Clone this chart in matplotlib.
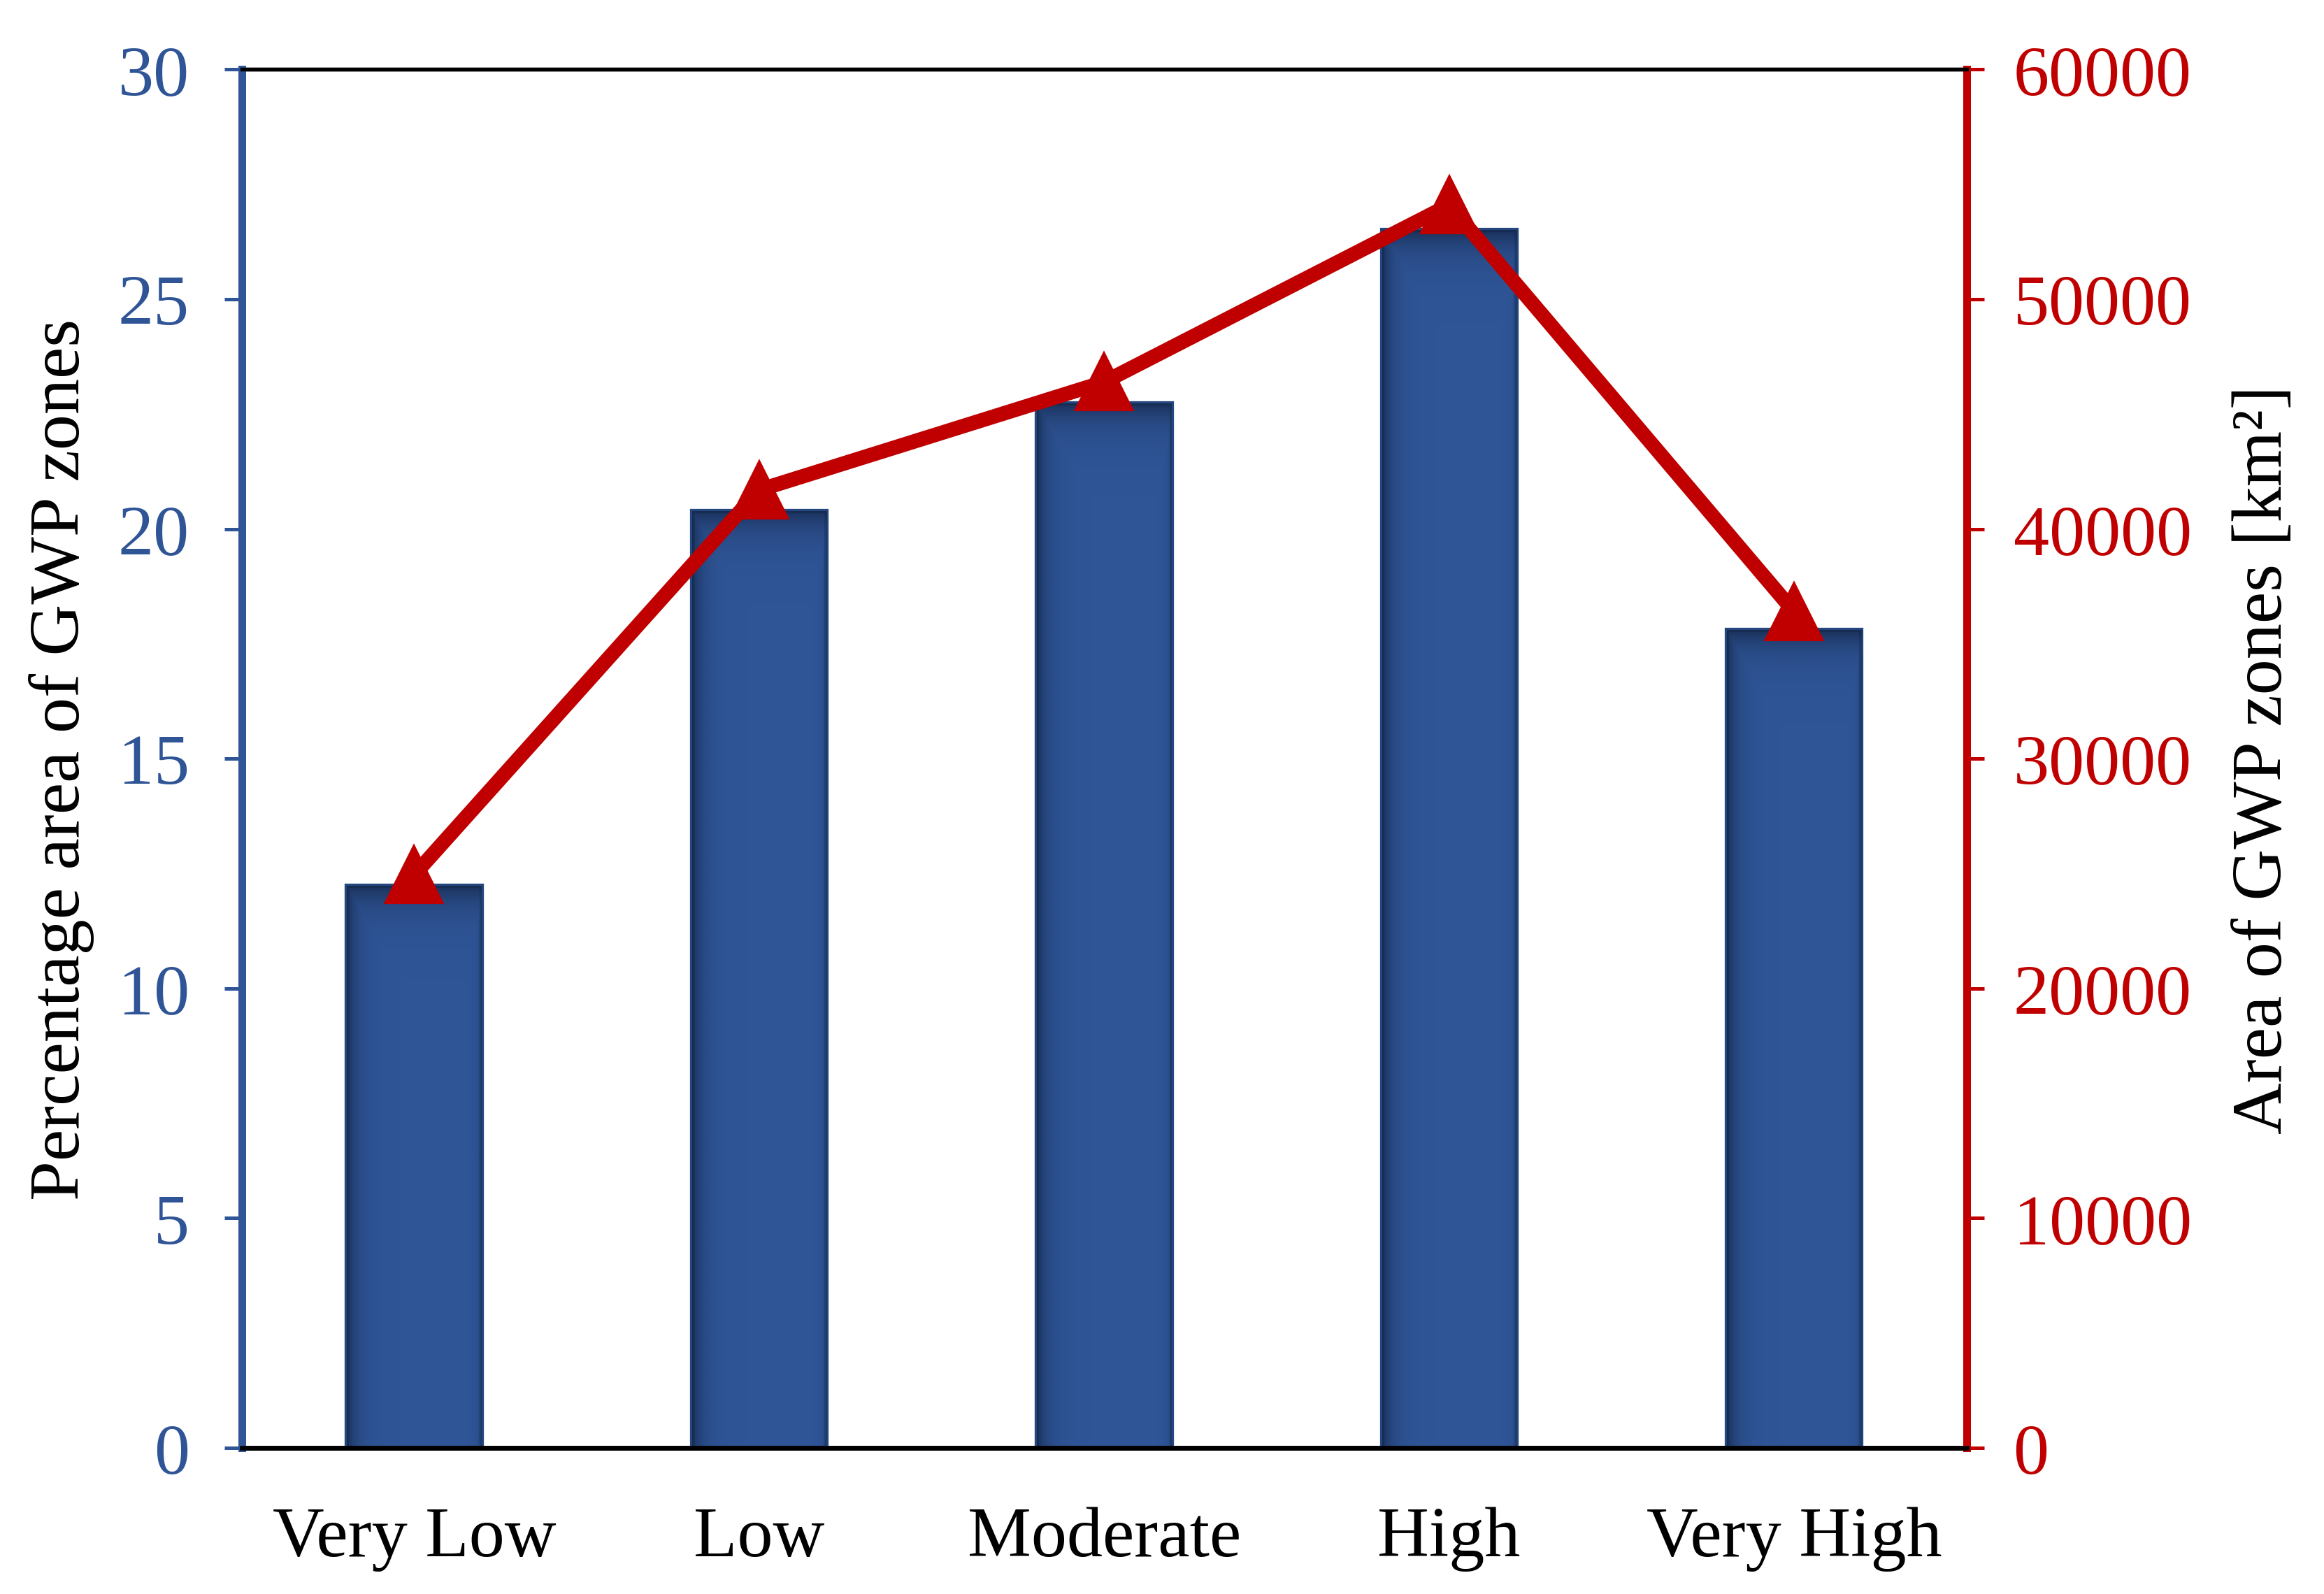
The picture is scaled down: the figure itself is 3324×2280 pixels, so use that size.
import matplotlib.pyplot as plt
import numpy as np

plt.rcParams['font.family'] = ['Liberation Serif', 'DejaVu Serif']

zones = ["Very Low", "Low", "Moderate", "High", "Very High"]
pct_area = [12.23, 20.39, 22.74, 26.5, 17.8]
area_km2 = [24950, 41700, 46400, 54100, 36400]

blue = "#2F5597"
red = "#C00000"
fs = 24.5

fig, ax = plt.subplots(figsize=(11.083, 7.603), dpi=300)
fig.subplots_adjust(left=0.104, right=0.846, bottom=0.0916, top=0.956)

x = np.arange(len(zones))
bars = ax.bar(x, pct_area, width=0.39, color=blue, edgecolor="#24477f", linewidth=1.5, zorder=2)

# inner shadow on the bars (dark left edge and top, like the excel look)
for b in bars:
    x0, w, h = b.get_x(), b.get_width(), b.get_height()
    u = np.linspace(0, 1, 200)
    v = np.linspace(0, h, 400)
    U, V = np.meshgrid(u, v)
    a_left = 0.6 * np.exp(-U / 0.08)
    a_right = 0.3 * np.exp(-(1 - U) / 0.025)
    a_top = 0.6 * np.exp(-(h - V) / 0.4)
    alpha = np.maximum(np.maximum(a_left, a_right), a_top)
    img = np.zeros((len(v), len(u), 4))
    img[..., 0] = 0.05
    img[..., 1] = 0.1
    img[..., 2] = 0.2
    img[..., 3] = alpha
    im = ax.imshow(img, extent=[x0, x0 + w, 0, h], origin="lower", aspect="auto",
                   zorder=2.5, interpolation="bilinear")
    im.set_clip_path(b)

ax.set_xlim(-0.5, len(zones) - 0.5)
ax.set_ylim(0, 30)
ax.set_yticks(range(0, 31, 5))
ax.set_xticks(x)
ax.set_xticklabels(zones, fontsize=fs)
ax.tick_params(axis="x", length=0, pad=20)
ax.tick_params(axis="y", colors=blue, labelsize=fs, length=6, width=1.2, direction="out", pad=12)
ax.set_ylabel("Percentage area of GWP zones", fontsize=fs, labelpad=8)

ax2 = ax.twinx()
ax2.plot(x, area_km2, color=red, linewidth=5, marker="^", markersize=19, zorder=3)
ax2.set_ylim(0, 60000)
ax2.set_yticks(range(0, 60001, 10000))
ax2.tick_params(axis="y", colors=red, labelsize=fs, length=6, width=1.2, direction="out", pad=10)
ax2.set_ylabel("Area of GWP zones [km²]", fontsize=fs, labelpad=14)

for a in (ax, ax2):
    a.spines["left"].set_color(blue)
    a.spines["left"].set_linewidth(2.6)
    a.spines["right"].set_color(red)
    a.spines["right"].set_linewidth(2.6)
    a.spines["top"].set_color("black")
    a.spines["top"].set_linewidth(1.3)
    a.spines["bottom"].set_color("black")
    a.spines["bottom"].set_linewidth(1.6)

plt.savefig("out.png")
